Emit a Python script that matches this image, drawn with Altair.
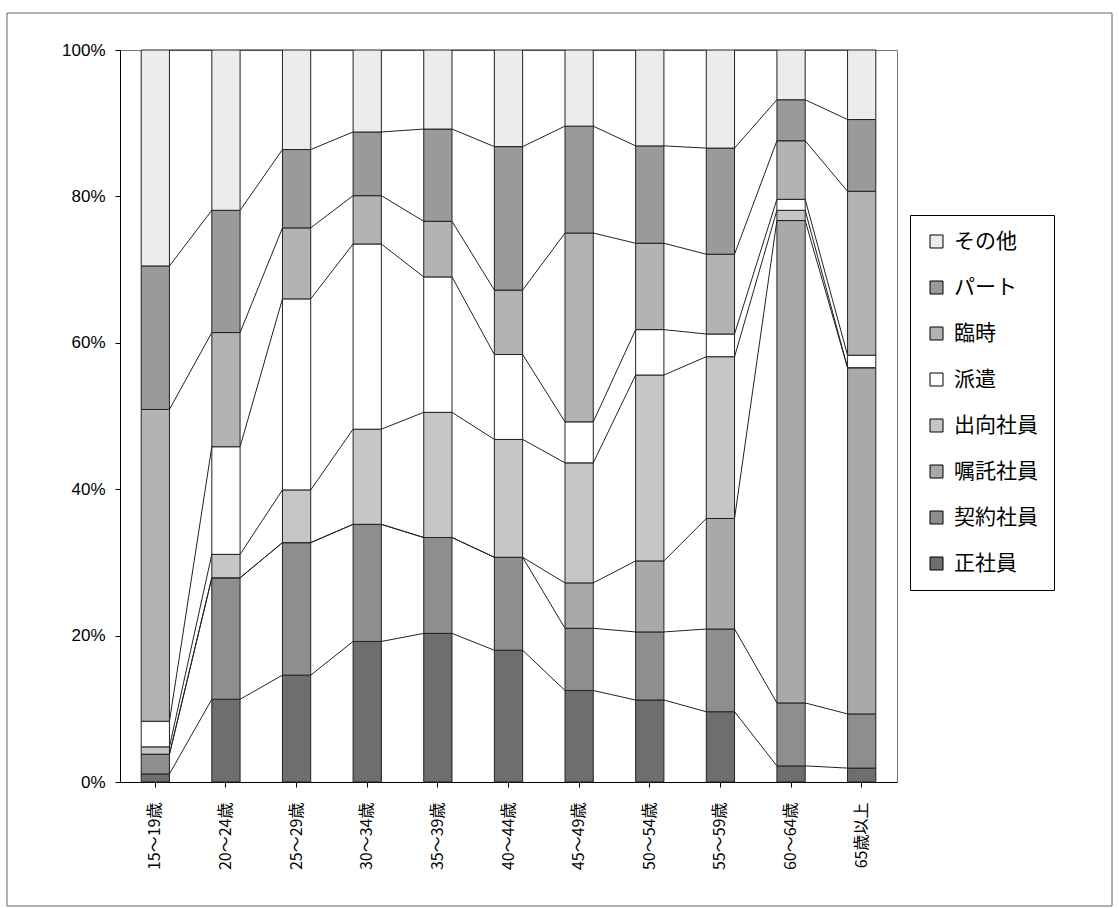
import altair as alt

ages = ["15～19歳", "20～24歳", "25～29歳", "30～34歳", "35～39歳", "40～44歳",
        "45～49歳", "50～54歳", "55～59歳", "60～64歳", "65歳以上"]
series = ["正社員", "契約社員", "嘱託社員", "出向社員", "派遣", "臨時", "パート", "その他"]

seishain = [1.1, 11.3, 14.6, 19.2, 20.3, 18.0, 12.5, 11.2, 9.6, 2.2, 1.9]
keiyaku = [2.7, 16.6, 18.1, 16.0, 13.1, 12.7, 8.5, 9.3, 11.3, 8.6, 7.4]
shokutaku = [0.0, 0.0, 0.0, 0.0, 0.0, 0.0, 6.2, 9.7, 15.1, 65.9, 47.3]
shukko = [1.0, 3.2, 7.2, 13.0, 17.1, 16.1, 16.4, 25.4, 22.1, 1.4, 0.0]
haken = [3.5, 14.7, 26.1, 25.3, 18.5, 11.6, 5.6, 6.2, 3.1, 1.5, 1.7]
rinji = [42.6, 15.6, 9.7, 6.6, 7.6, 8.8, 25.8, 11.8, 10.9, 8.0, 22.4]
part = [19.6, 16.7, 10.7, 8.7, 12.6, 19.6, 14.6, 13.3, 14.5, 5.6, 9.8]
sonota = [29.5, 21.9, 13.6, 11.2, 10.8, 13.2, 10.4, 13.1, 13.4, 6.8, 9.5]

series_values = [seishain, keiyaku, shokutaku, shukko, haken, rinji, part, sonota]
series_colors = ["#6e6e6e", "#8e8e8e", "#a9a9a9", "#c6c6c6", "#ffffff", "#b3b3b3", "#9a9a9a", "#ececec"]

# stacked extents (as shares of 1) derived from the percentage lists above
bar_rows = []
cum = {}
for ai, a in enumerate(ages):
    t = 0.0
    for s, vals in zip(series, series_values):
        bar_rows.append({"age": a, "series": s,
                         "lo": round(t / 100, 4), "hi": round((t + vals[ai]) / 100, 4)})
        t += vals[ai]
        cum[(s, a)] = round(t / 100, 4)

line_rows = []
for s in series:
    for ai in range(len(ages) - 1):
        line_rows.append({"series": s, "a1": ages[ai], "a2": ages[ai + 1],
                          "y1": cum[(s, ages[ai])], "y2": cum[(s, ages[ai + 1])]})

legend_order = series[::-1]
legend_colors = series_colors[::-1]

xscale = alt.Scale(domain=ages, paddingInner=0.6, paddingOuter=0.3)
yscale = alt.Scale(domain=[0, 1], nice=False)

x_axis = alt.Axis(
    title=None, labelAngle=270, labelFontSize=16,
    labelFont="Noto Sans CJK JP", labelColor="black",
    labelPadding=15, tickSize=5, tickColor="black", domainColor="black",
)
y_axis = alt.Axis(
    title=None, values=[0, 0.2, 0.4, 0.6, 0.8, 1.0], format=".0%",
    labelFontSize=17, labelFont="Liberation Sans", labelColor="black",
    tickSize=5, tickColor="black", domainColor="black", grid=False, labelPadding=10,
)

frame = alt.Chart(alt.Data(values=[{"k": 0}])).mark_rect(
    fill="transparent", stroke="#666", strokeWidth=1
).encode(
    x=alt.value(-113), x2=alt.value(992), y=alt.value(-37), y2=alt.value(856)
)

bars = alt.Chart(alt.Data(values=bar_rows)).mark_bar(stroke="#222", strokeWidth=1).encode(
    x=alt.X("age:N", scale=xscale, axis=x_axis),
    y=alt.Y("lo:Q", scale=yscale, axis=y_axis),
    y2=alt.Y2("hi"),
    color=alt.Color(
        "series:N",
        scale=alt.Scale(domain=legend_order, range=legend_colors),
        legend=alt.Legend(
            title=None, orient="none", legendX=790, legendY=165,
            strokeColor="black", padding=16,
            symbolType="square", symbolSize=169, symbolStrokeColor="black",
            symbolStrokeWidth=1, labelOffset=7,
            labelFontSize=21, labelFont="Noto Sans CJK JP", labelColor="black",
            rowPadding=24,
        ),
    ),
)

rules = alt.Chart(alt.Data(values=line_rows)).mark_rule(color="#222", strokeWidth=1).encode(
    x=alt.X("a1:N", scale=xscale, bandPosition=1, axis=x_axis),
    x2=alt.X2("a2", bandPosition=0),
    y=alt.Y("y1:Q", scale=yscale, axis=y_axis),
    y2=alt.Y2("y2"),
)

chart = alt.layer(frame, bars, rules).properties(
    width=777, height=732,
    padding={"left": 120, "top": 50, "right": 222, "bottom": 126},
    autosize=alt.AutoSizeParams(type="none"),
    background="white",
).configure_view(stroke="#777", strokeWidth=1)

chart.save("out.html", embed_options={"renderer": "svg", "actions": False})
